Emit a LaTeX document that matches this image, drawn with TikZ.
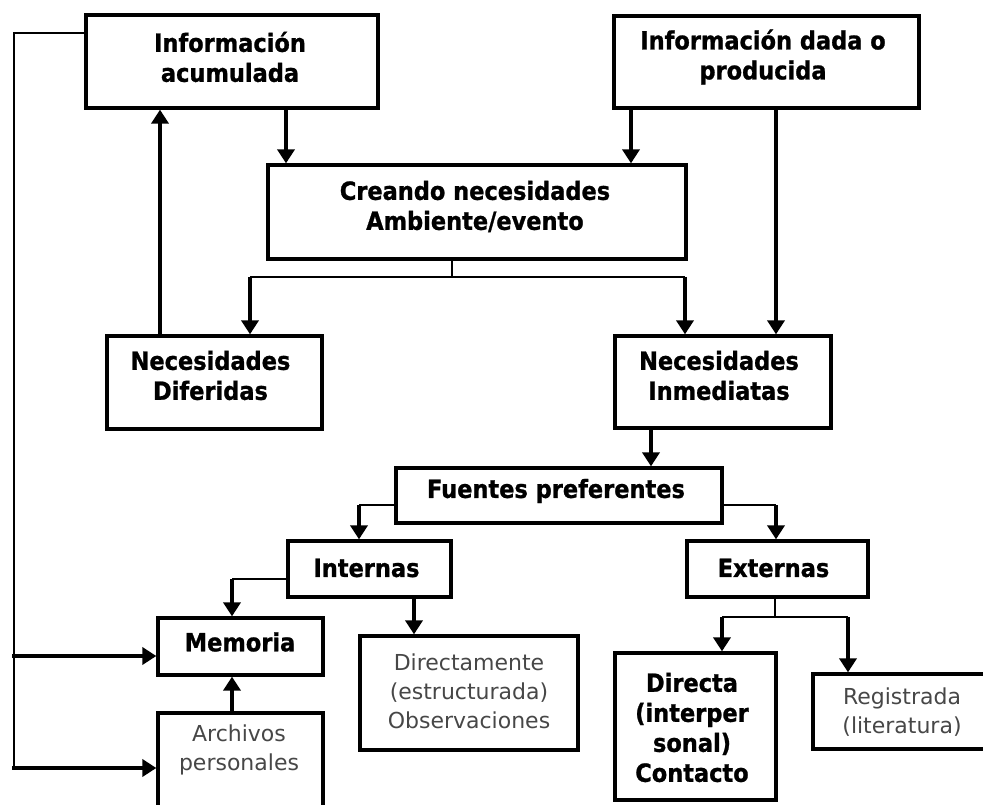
\documentclass[tikz,border=0pt]{standalone}
\usepackage{fontspec}
\usetikzlibrary{arrows.meta}
\newfontfamily\boxbold{DejaVu Sans Condensed Bold}[FakeBold=1]
\newfontfamily\boxreg{DejaVu Sans}
\begin{document}
\begin{tikzpicture}[x=1pt,y=-1pt,
  box/.style={draw,line width=3.3pt,inner sep=0pt,fill=white},
  bt/.style={font=\boxbold\fontsize{25}{30}\selectfont,align=center,inner sep=0pt},
  rt/.style={font=\boxreg\fontsize{22}{29}\selectfont,align=center,inner sep=0pt,text=black!72},
  thinln/.style={line width=2.6pt},
  arr/.style={line width=4.4pt,-{Triangle[width=17pt,length=14pt]}},
]
\clip (0,0) rectangle (983,805);
\fill[white] (0,0) rectangle (983,805);

% boxes
\node[box,minimum width=292pt,minimum height=93pt] (ia) at (232,61.5) {};
\node[box,minimum width=305pt,minimum height=92pt] (id) at (766.5,62) {};
\node[box,minimum width=418pt,minimum height=94pt] (cn) at (477,212) {};
\node[box,minimum width=215pt,minimum height=93pt] (nd) at (214.5,382.5) {};
\node[box,minimum width=216pt,minimum height=92pt] (ni) at (723,382) {};
\node[box,minimum width=326pt,minimum height=55pt] (fp) at (559,495.5) {};
\node[box,minimum width=163pt,minimum height=56pt] (in) at (369.5,569) {};
\node[box,minimum width=181pt,minimum height=56pt] (ex) at (777.5,569) {};
\node[box,minimum width=165pt,minimum height=57pt] (me) at (240.5,646.5) {};
\node[box,minimum width=165pt,minimum height=117pt] (ar) at (240.5,771.5) {};
\node[box,minimum width=218pt,minimum height=114pt] (dm) at (469,693) {};
\node[box,minimum width=161pt,minimum height=147pt] (dc) at (695.5,726.5) {};
\node[box,minimum width=197pt,minimum height=75pt] (rg) at (911.5,711.5) {};

% labels
\node[bt] (tia) at (230,57) {Información\\acumulada};
\node[bt] (tid) at (763,57) {Información dada o\\producida};
\node[bt] (tcn) at (475,206.5) {Creando necesidades\\Ambiente/evento};
\node[bt] (tnd) at (210.5,375.5) {Necesidades\\Diferidas};
\node[bt] (tni) at (719,375.5) {Necesidades\\Inmediatas};
\node[bt] (tfp) at (556,491) {Fuentes preferentes};
\node[bt] (tin) at (366.5,568) {Internas};
\node[bt] (tex) at (773.5,568) {Externas};
\node[bt] (tme) at (240,642) {Memoria};
\node[rt] (tar) at (239,750) {Archivos\\personales};
\node[rt] (tdm) at (469,691) {Directamente\\(estructurada)\\Observaciones};
\node[bt] (tdc) at (692,727.5) {Directa\\(interper\\sonal)\\Contacto};
\node[rt] (trg) at (902,712.5) {Registrada\\(literatura)};

% column and row helpers
\coordinate (c160) at (160,0);
\coordinate (c232) at (232,0);
\coordinate (c250) at (250,0);
\coordinate (c286) at (286,0);
\coordinate (c359) at (359,0);
\coordinate (c414) at (414,0);
\coordinate (c452) at (452,0);
\coordinate (c631) at (631,0);
\coordinate (c651) at (651,0);
\coordinate (c685) at (685,0);
\coordinate (c722) at (722,0);
\coordinate (c775) at (775,0);
\coordinate (c776) at (776,0);
\coordinate (c848) at (848,0);
\coordinate (fbA) at (14,33);
\coordinate (fbB) at (14,768);
\coordinate (fbM) at (12,656);
\coordinate (fbR) at (12,768);
\coordinate (jC) at (452,277);
\coordinate (jCL) at (250,277);
\coordinate (jCR) at (685,277);
\coordinate (jFL) at (359,505);
\coordinate (jFR) at (776,505);
\coordinate (jI) at (232,579);
\coordinate (jE) at (775,617);
\coordinate (jEL) at (722,617);
\coordinate (jER) at (848,617);

% feedback from accumulated information
\draw[thinln] (ia.west |- fbA) -- (fbA) -- (fbB);
\draw[arr] (fbM) -- (me.west |- fbM);
\draw[arr] (fbR) -- (ar.west |- fbR);

% upper flows
\draw[arr] (ia.south -| c286) -- (cn.north -| c286);
\draw[arr] (nd.north -| c160) -- (ia.south -| c160);
\draw[arr] (id.south -| c631) -- (cn.north -| c631);
\draw[arr] (id.south -| c776) -- (ni.north -| c776);

% needs split
\draw[thinln] (cn.south -| c452) -- (jC);
\draw[thinln] (jCL) -- (jCR);
\draw[arr] (jCL) -- (nd.north -| c250);
\draw[arr] (jCR) -- (ni.north -| c685);

% sources
\draw[arr] (ni.south -| c651) -- (fp.north -| c651);
\draw[thinln] (fp.west |- jFL) -- (jFL);
\draw[arr] (jFL) -- (in.north -| c359);
\draw[thinln] (fp.east |- jFR) -- (jFR);
\draw[arr] (jFR) -- (ex.north -| c776);

% internal sources
\draw[thinln] (in.west |- jI) -- (jI);
\draw[arr] (jI) -- (me.north -| c232);
\draw[arr] (in.south -| c414) -- (dm.north -| c414);
\draw[arr] (ar.north -| c232) -- (me.south -| c232);

% external sources
\draw[thinln] (ex.south -| c775) -- (jE);
\draw[thinln] (jEL) -- (jER);
\draw[arr] (jEL) -- (dc.north -| c722);
\draw[arr] (jER) -- (rg.north -| c848);
\end{tikzpicture}
\end{document}
